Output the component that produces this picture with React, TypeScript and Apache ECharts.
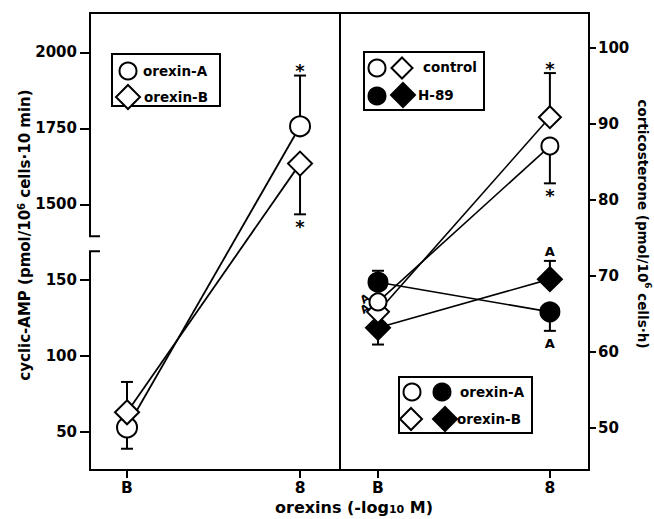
import React, { useEffect, useRef } from 'react';
import * as echarts from 'echarts';

// ---------- data ----------
const xLabels = ['B', '8'];
const xPositions = [0, 1];

// left panel: cyclic-AMP (pmol/10^6 cells·10 min)
const campOrexinA = [53, 1757];
const campOrexinB = [63, 1634];
const campErrEndA = [39, 1924];
const campErrEndB = [83, 1467];
const campMarkA = ['', '*'];
const campMarkB = ['', '*'];
const campTicks = [50, 100, 150, 1500, 1750, 2000];
const campBreak = [169, 1395]; // lower segment top value, upper segment bottom value

// right panel: corticosterone (pmol/10^6 cells·h)
const corControlA = [66.6, 87.1];
const corControlB = [65.3, 90.9];
const corH89A = [69.2, 65.3];
const corH89B = [63.2, 69.6];
const corErrEndControlA: (number | null)[] = [null, 82.2];
const corErrEndControlB: (number | null)[] = [null, 96.7];
const corErrEndH89A: (number | null)[] = [70.7, 62.8];
const corErrEndH89B: (number | null)[] = [61, 72];
const corMarkControlA = ['A', '*'];
const corMarkControlB = ['A', '*'];
const corMarkH89A = ['', 'A'];
const corMarkH89B = ['', 'A'];
const corTicks = [50, 60, 70, 80, 90, 100];

// ---------- helpers ----------
// broken axis: lower segment in raw units, upper segment compressed 5x
const SCALE_SPLIT = 170;
const toAxis = (v: number) => (v <= SCALE_SPLIT ? v : v / 5 - 100);
const fromAxis = (t: number) => (t <= 160 ? t : (t + 100) * 5);

const FONT = 'DejaVu Sans';
const INK = '#000';

const G0 = { left: 90, top: 13, width: 250, height: 457 };
const G1 = { left: 340, top: 13, width: 249, height: 457 };

type Bar = { x: number; y: number; end: number; mark: string };

function buildBars(xs: number[], ys: number[], ends: (number | null)[], marks: string[], tf = (v: number) => v): Bar[] {
  const out: Bar[] = [];
  xs.forEach((x, i) => {
    const e = ends[i];
    if (e !== null && e !== undefined) {
      out.push({ x, y: tf(ys[i]), end: tf(e), mark: marks[i] });
    }
  });
  return out;
}

function errorSeries(bars: Bar[], xIdx: number, yIdx: number) {
  return {
    type: 'custom',
    xAxisIndex: xIdx,
    yAxisIndex: yIdx,
    z: 1,
    silent: true,
    clip: false,
    data: bars.map((b) => [b.x, b.y, b.end]),
    renderItem: (params: any, api: any) => {
      const b = bars[params.dataIndex];
      const p0 = api.coord([api.value(0), api.value(1)]);
      const p1 = api.coord([api.value(0), api.value(2)]);
      const up = p1[1] < p0[1];
      const children: any[] = [
        { type: 'line', shape: { x1: p0[0], y1: p0[1], x2: p1[0], y2: p1[1] }, style: { stroke: INK, lineWidth: 2 } },
        { type: 'line', shape: { x1: p1[0] - 6, y1: p1[1], x2: p1[0] + 6, y2: p1[1] }, style: { stroke: INK, lineWidth: 2 } },
      ];
      if (b.mark) {
        const star = b.mark === '*';
        const off = star ? (up ? -5 : 12) : up ? -9 : 13;
        children.push({
          type: 'text',
          x: p1[0],
          y: p1[1] + off,
          style: {
            text: b.mark,
            fill: INK,
            fontFamily: FONT,
            fontWeight: 'bold',
            fontSize: star ? 18 : 13,
            align: 'center',
            verticalAlign: 'middle',
          },
        });
      }
      return { type: 'group', children };
    },
  };
}

function sideMarkSeries(xs: number[], ys: number[], marks: string[], xIdx: number, yIdx: number) {
  const pts = xs.map((x, i) => ({ x, y: ys[i], m: marks[i] })).filter((p, i) => p.m && i === 0);
  return {
    type: 'custom',
    xAxisIndex: xIdx,
    yAxisIndex: yIdx,
    z: 1,
    silent: true,
    clip: false,
    data: pts.map((p) => [p.x, p.y]),
    renderItem: (params: any, api: any) => {
      const p = api.coord([api.value(0), api.value(1)]);
      return {
        type: 'text',
        x: p[0] - 13,
        y: p[1] - 3,
        rotation: 0.6,
        style: {
          text: pts[params.dataIndex].m,
          fill: INK,
          fontFamily: FONT,
          fontWeight: 'bold',
          fontSize: 11,
          align: 'center',
          verticalAlign: 'middle',
        },
      };
    },
  };
}

function lineSeries(name: string, ys: number[], xIdx: number, yIdx: number, width: number) {
  return {
    name,
    type: 'line',
    xAxisIndex: xIdx,
    yAxisIndex: yIdx,
    z: 2,
    silent: true,
    showSymbol: false,
    symbol: 'none',
    lineStyle: { color: INK, width },
    data: xPositions.map((x, i) => [x, ys[i]]),
  };
}

function markerSeries(name: string, ys: number[], xIdx: number, yIdx: number, symbol: string, size: number, filled: boolean) {
  return {
    name,
    type: 'scatter',
    xAxisIndex: xIdx,
    yAxisIndex: yIdx,
    z: 3,
    silent: true,
    symbol,
    symbolSize: size,
    itemStyle: { color: filled ? INK : '#fff', borderColor: INK, borderWidth: 2, opacity: 1 },
    data: xPositions.map((x, i) => [x, ys[i]]),
  };
}

const tickText = { color: INK, fontFamily: FONT, fontWeight: 'bold' as const, fontSize: 15 };

function xAxis(gridIndex: number, min: number, max: number) {
  return {
    type: 'value',
    gridIndex,
    min,
    max,
    position: 'bottom',
    axisLine: { show: false, onZero: false },
    splitLine: { show: false },
    axisTick: { show: true, customValues: xPositions, length: 8, inside: false, lineStyle: { color: INK, width: 2 } },
    axisLabel: {
      show: true,
      customValues: xPositions,
      margin: 11,
      formatter: (v: number) => xLabels[xPositions.indexOf(v)] ?? '',
      ...tickText,
      fontSize: 15.5,
      lineHeight: 14,
    },
  };
}

const legendText = (x: number, y: number, text: string) => ({
  type: 'text',
  x,
  y,
  style: { text, fill: INK, fontFamily: FONT, fontWeight: 'bold', fontSize: 13.5, align: 'left', verticalAlign: 'middle' },
});
const legendCircle = (cx: number, cy: number, r: number, filled: boolean) => ({
  type: 'circle',
  shape: { cx, cy, r },
  style: { fill: filled ? INK : '#fff', stroke: INK, lineWidth: 2 },
});
const legendDiamond = (cx: number, cy: number, h: number, filled: boolean) => ({
  type: 'polygon',
  shape: { points: [[cx, cy - h], [cx + h, cy], [cx, cy + h], [cx - h, cy]] },
  style: { fill: filled ? INK : '#fff', stroke: INK, lineWidth: 2 },
});
const legendBox = (x: number, y: number, w: number, h: number) => ({
  type: 'rect',
  shape: { x, y, width: w, height: h },
  style: { fill: '#fff', stroke: INK, lineWidth: 2 },
});

export default function App() {
  const ref = useRef<HTMLDivElement>(null);
  useEffect(() => {
    if (!ref.current) return;
    const chart = echarts.init(ref.current, undefined, { renderer: 'svg' });

    const campBarsA = buildBars(xPositions, campOrexinA, campErrEndA, campMarkA, toAxis);
    const campBarsB = buildBars(xPositions, campOrexinB, campErrEndB, campMarkB, toAxis);
    const corBars = [
      ...buildBars(xPositions, corControlA, corErrEndControlA, corMarkControlA),
      ...buildBars(xPositions, corControlB, corErrEndControlB, corMarkControlB),
      ...buildBars(xPositions, corH89A, corErrEndH89A, corMarkH89A),
      ...buildBars(xPositions, corH89B, corErrEndH89B, corMarkH89B),
    ];

    const option: any = {
      animation: false,
      backgroundColor: '#fff',
      grid: [
        { ...G0, show: false, containLabel: false },
        { ...G1, show: true, borderColor: INK, borderWidth: 2, backgroundColor: 'transparent', containLabel: false },
      ],
      xAxis: [xAxis(0, -0.214, 1.231), xAxis(1, -0.221, 1.2275)],
      yAxis: [
        {
          type: 'value',
          gridIndex: 0,
          position: 'left',
          min: 25,
          max: 326,
          axisLine: { show: false, onZero: false },
          splitLine: { show: false },
          axisTick: { show: true, customValues: campTicks.map(toAxis), length: 10, lineStyle: { color: INK, width: 2 } },
          axisLabel: {
            customValues: campTicks.map(toAxis),
            margin: 13,
            formatter: (v: number) => String(Math.round(fromAxis(v))),
            ...tickText,
          },
        },
        {
          type: 'value',
          gridIndex: 1,
          position: 'right',
          min: 44.5,
          max: 104.6,
          axisLine: { show: false, onZero: false },
          splitLine: { show: false },
          axisTick: { show: true, customValues: corTicks, length: 7, lineStyle: { color: INK, width: 2 } },
          axisLabel: { customValues: corTicks, margin: 9, ...tickText },
        },
      ],
      series: [
        errorSeries([...campBarsA, ...campBarsB], 0, 0),
        lineSeries('orexin-A', campOrexinA.map(toAxis), 0, 0, 1.8),
        lineSeries('orexin-B', campOrexinB.map(toAxis), 0, 0, 1.8),
        markerSeries('orexin-A', campOrexinA.map(toAxis), 0, 0, 'circle', 20, false),
        markerSeries('orexin-B', campOrexinB.map(toAxis), 0, 0, 'diamond', 24, false),

        errorSeries(corBars, 1, 1),
        sideMarkSeries(xPositions, corControlA, corMarkControlA, 1, 1),
        sideMarkSeries(xPositions, corControlB, corMarkControlB, 1, 1),
        lineSeries('control orexin-A', corControlA, 1, 1, 1.6),
        lineSeries('control orexin-B', corControlB, 1, 1, 1.6),
        lineSeries('H-89 orexin-A', corH89A, 1, 1, 1.6),
        lineSeries('H-89 orexin-B', corH89B, 1, 1, 1.6),
        markerSeries('H-89 orexin-B', corH89B, 1, 1, 'diamond', 24, true),
        markerSeries('control orexin-B', corControlB, 1, 1, 'diamond', 22, false),
        markerSeries('control orexin-A', corControlA, 1, 1, 'circle', 17, false),
        markerSeries('H-89 orexin-A', corH89A, 1, 1, 'circle', 19, true),
      ],
    };
    chart.setOption(option);

    // frame of the left panel with the axis break, positioned through the axis scale
    const L = G0.left;
    const T = G0.top;
    const R = G0.left + G0.width;
    const B = G0.top + G0.height;
    const yLow = chart.convertToPixel({ xAxisIndex: 0, yAxisIndex: 0 }, [0, toAxis(campBreak[0])])[1];
    const yHigh = chart.convertToPixel({ xAxisIndex: 0, yAxisIndex: 0 }, [0, toAxis(campBreak[1])])[1];
    const frameStyle = { stroke: INK, lineWidth: 2, fill: 'none' };

    const sup = { fontSize: 10, fontFamily: FONT, fontWeight: 'bold', fill: INK, verticalAlign: 'top', lineHeight: 18 };
    const main = { fontSize: 15, fontFamily: FONT, fontWeight: 'bold', fill: INK, lineHeight: 18 };

    chart.setOption({
      graphic: [
        { type: 'polyline', z: 10, shape: { points: [[L + 10, yHigh], [L, yHigh], [L, T], [R, T]] }, style: frameStyle },
        { type: 'polyline', z: 10, shape: { points: [[L + 10, yLow], [L, yLow], [L, B], [R, B]] }, style: frameStyle },

        // left legend
        {
          type: 'group',
          z: 20,
          children: [
            legendBox(112, 54, 108, 52),
            legendCircle(128, 71, 8.5, false),
            legendText(143, 71, 'orexin-A'),
            legendDiamond(128, 97, 12, false),
            legendText(144, 97, 'orexin-B'),
          ],
        },
        // right top legend
        {
          type: 'group',
          z: 20,
          children: [
            legendBox(364, 52, 120, 58),
            legendCircle(377, 68, 8.5, false),
            legendDiamond(402, 68, 10.5, false),
            legendText(423, 67, 'control'),
            legendCircle(377, 96, 8.5, true),
            legendDiamond(403, 95, 12, true),
            legendText(418, 95, 'H-89'),
          ],
        },
        // right bottom legend
        {
          type: 'group',
          z: 20,
          children: [
            legendBox(399, 377, 133, 56),
            legendCircle(412, 392, 8.5, false),
            legendCircle(442, 392, 8.5, true),
            legendText(460, 392, 'orexin-A'),
            legendDiamond(411, 419, 11, false),
            legendDiamond(445, 419, 12, true),
            legendText(457, 419, 'orexin-B'),
          ],
        },
        // axis titles
        {
          type: 'text',
          x: 25,
          y: 235,
          rotation: Math.PI / 2,
          style: {
            text: '{m|cyclic-AMP (pmol/10}{s|6}{m| cells·10 min)}',
            align: 'center',
            verticalAlign: 'middle',
            rich: { m: main, s: sup },
          },
        },
        {
          type: 'text',
          x: 643,
          y: 224,
          rotation: -Math.PI / 2,
          style: {
            text: '{m|corticosterone (pmol/10}{s|6}{m| cells·h)}',
            align: 'center',
            verticalAlign: 'middle',
            rich: { m: { ...main, fontSize: 13.5 }, s: { ...sup, fontSize: 9 } },
          },
        },
        {
          type: 'text',
          x: 354,
          y: 507,
          style: {
            text: '{m|orexins (-log}{s|10}{m| M)}',
            align: 'center',
            verticalAlign: 'middle',
            rich: {
              m: { fontSize: 16, fontFamily: FONT, fontWeight: 'bold', fill: INK, lineHeight: 16 },
              s: { fontSize: 11, fontFamily: FONT, fontWeight: 'bold', fill: INK, verticalAlign: 'bottom', lineHeight: 16 },
            },
          },
        },
      ],
    });

    return () => chart.dispose();
  }, []);

  return <div ref={ref} style={{ position: 'absolute', left: 0, top: 0, width: 654, height: 519 }} />;
}
